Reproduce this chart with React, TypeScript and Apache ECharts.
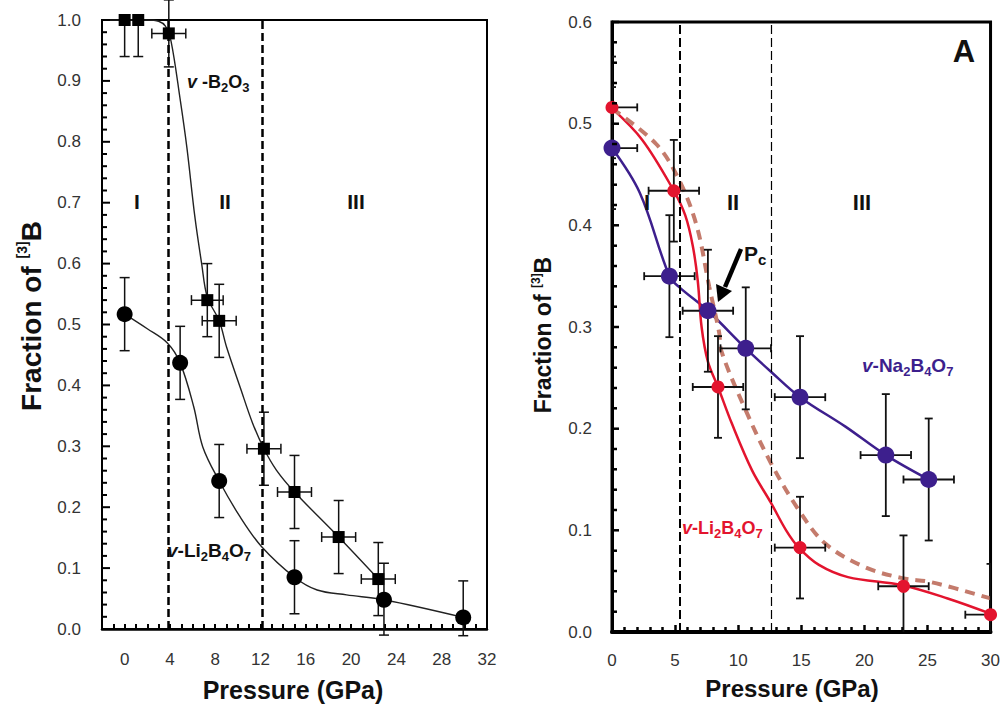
import React, { useEffect, useRef } from 'react';
import * as echarts from 'echarts';

// ---------- Left panel (v-B2O3 and v-Li2B4O7) ----------
const leftXLabels = [0, 4, 8, 12, 16, 20, 24, 28, 32];
const leftRegionBounds = [3.85, 12.15];

const b2o3X = [0, 1.2, 3.9, 7.3, 8.35, 12.3, 15.0, 18.9, 22.4];
const b2o3Y = [1.0, 1.0, 0.978, 0.54, 0.506, 0.296, 0.225, 0.151, 0.082];
const b2o3XErr = [0, 0, 1.5, 1.4, 1.5, 1.5, 1.5, 1.5, 1.5];
const b2o3YErrUp = [0, 0, 0.055, 0.06, 0.06, 0.06, 0.06, 0.06, 0.06];
const b2o3YErrDown = [0.06, 0.06, 0.055, 0.06, 0.06, 0.06, 0.06, 0.06, 0.06];

const b2o3CurveX = [-2, 0, 2, 3.0, 3.6, 4.1, 4.9, 5.5, 6.2, 6.8, 7.3, 8.35, 9.0, 10.2, 11.3, 12.3, 13.4, 15.0, 18.9, 22.4];
const b2o3CurveY = [1.0, 1.0, 1.0, 0.998, 0.99, 0.965, 0.87, 0.79, 0.677, 0.6, 0.545, 0.506, 0.463, 0.397, 0.338, 0.296, 0.261, 0.225, 0.151, 0.082];

const li2LeftX = [0, 4.9, 8.35, 15.0, 22.9, 29.9];
const li2LeftY = [0.517, 0.437, 0.243, 0.085, 0.048, 0.019];
const li2LeftXErr = [0, 0, 0, 0, 0, 0];
const li2LeftYErrUp = [0.06, 0.06, 0.06, 0.06, 0.06, 0.06];
const li2LeftYErrDown = [0.06, 0.06, 0.06, 0.06, 0.058, 0.03];

const li2LeftCurveX = [0, 2, 3.75, 4.9, 6.1, 6.9, 8.35, 10.2, 12.1, 15.0, 17, 19.6, 22.9, 29.9];
const li2LeftCurveY = [0.517, 0.493, 0.47, 0.437, 0.365, 0.299, 0.243, 0.184, 0.135, 0.085, 0.064, 0.056, 0.048, 0.019];

// ---------- Right panel (A) ----------
const rightRegionBounds = [5.35, 12.6];

const redX = [0, 4.9, 8.4, 14.9, 23.1, 30];
const redY = [0.516, 0.434, 0.241, 0.083, 0.045, 0.017];
const redXErr = [2, 2, 2, 2, 2, 2];
const redYErr = [0.05, 0.05, 0.05, 0.05, 0.05, 0.05];

const redCurveX = [0, 2.4, 4.9, 5.8, 6.4, 6.8, 7.1, 7.6, 8.4, 9.5, 11.1, 12.6, 13.8, 14.8, 16.4, 18.7, 23, 26.6, 30];
const redCurveY = [0.515, 0.484, 0.434, 0.41, 0.38, 0.345, 0.3, 0.266, 0.241, 0.205, 0.159, 0.127, 0.1, 0.083, 0.066, 0.054, 0.046, 0.033, 0.018];

const purpleX = [0, 4.55, 7.6, 10.6, 14.9, 21.7, 25.1];
const purpleY = [0.476, 0.35, 0.316, 0.279, 0.231, 0.174, 0.15];
const purpleXErr = [2, 2, 2, 2, 2, 2, 2];
const purpleYErr = [0.06, 0.06, 0.06, 0.06, 0.06, 0.06, 0.06];

const purpleCurveX = [0, 2.2, 4.55, 5.35, 7.6, 10.6, 12.6, 14.9, 18.5, 21.7, 25.1];
const purpleCurveY = [0.476, 0.432, 0.35, 0.339, 0.316, 0.279, 0.256, 0.231, 0.202, 0.174, 0.15];

const dashedCurveX = [0, 3.5, 5.3, 6.7, 7.7, 8.5, 8.65, 10.6, 12.6, 14.8, 16.9, 20, 23, 25.3, 30];
const dashedCurveY = [0.515, 0.48, 0.445, 0.4, 0.34, 0.294, 0.277, 0.218, 0.166, 0.12, 0.087, 0.064, 0.053, 0.049, 0.033];

const FONT = '"Liberation Sans", Arial, sans-serif';
const RED = '#e3142e';
const PURPLE = '#3d1f8d';
const BROWN = '#c47b6c';

const GRID_L = { left: 102, top: 20, width: 385, height: 609 };
const GRID_R = { left: 612, top: 22, width: 381, height: 610 };

const zip = (xs: number[], ys: number[]) => xs.map((x, i) => [x, ys[i]]);

function range(a: number, b: number, step: number) {
  const out: number[] = [];
  for (let v = a; v <= b + 1e-9; v += step) out.push(Math.round(v * 1000) / 1000);
  return out;
}

// inward y-axis ticks along the left edge of a grid (major every 0.1, minor every 0.02)
function yTickLines(g: { left: number; top: number; width: number; height: number }, yMax: number, major: number, minor: number, width: number) {
  return range(0, yMax, 0.02).map((v, i) => {
    const y = Math.round((g.top + g.height * (1 - v / yMax)) * 10) / 10;
    const len = i % 5 === 0 ? major : minor;
    return {
      type: 'line',
      z: 20,
      silent: true,
      shape: { x1: g.left, y1: y, x2: g.left + len, y2: y },
      style: { stroke: '#000', lineWidth: width },
    };
  });
}

function errorBars(
  axis: number,
  xs: number[],
  ys: number[],
  xErr: number[],
  yUp: number[],
  yDown: number[],
  capHalf: number,
  width: number,
  clip: boolean
) {
  return {
    type: 'custom',
    xAxisIndex: axis,
    yAxisIndex: axis,
    clip,
    silent: true,
    z: 3,
    encode: { x: 0, y: 1 },
    data: xs.map((x, i) => [x, ys[i], xErr[i], yUp[i], yDown[i]]),
    renderItem: (params: any, api: any) => {
      const x = api.value(0);
      const y = api.value(1);
      const xe = api.value(2);
      const yu = api.value(3);
      const yd = api.value(4);
      const c = api.coord([x, y]);
      const style = { stroke: '#111', lineWidth: width };
      const children: any[] = [];
      if (yu > 0 || yd > 0) {
        const t = api.coord([x, y + yu]);
        const b = api.coord([x, y - yd]);
        children.push({ type: 'line', shape: { x1: c[0], y1: t[1], x2: c[0], y2: b[1] }, style });
        if (yu > 0)
          children.push({ type: 'line', shape: { x1: c[0] - capHalf, y1: t[1], x2: c[0] + capHalf, y2: t[1] }, style });
        if (yd > 0)
          children.push({ type: 'line', shape: { x1: c[0] - capHalf, y1: b[1], x2: c[0] + capHalf, y2: b[1] }, style });
      }
      if (xe > 0) {
        const l = api.coord([x - xe, y]);
        const r = api.coord([x + xe, y]);
        children.push({ type: 'line', shape: { x1: l[0], y1: c[1], x2: r[0], y2: c[1] }, style });
        children.push({ type: 'line', shape: { x1: l[0], y1: c[1] - capHalf, x2: l[0], y2: c[1] + capHalf }, style });
        children.push({ type: 'line', shape: { x1: r[0], y1: c[1] - capHalf, x2: r[0], y2: c[1] + capHalf }, style });
      }
      return { type: 'group', children };
    },
  };
}

function formulaText(x: number, y: number, parts: [string, string][], size: number, color: string, subSize: number) {
  const text = parts.map(([k, t]) => `{${k}|${t}}`).join('');
  return {
    type: 'text',
    x,
    y,
    z: 10,
    style: {
      text,
      align: 'left',
      verticalAlign: 'middle',
      fill: color,
      rich: {
        i: { fontStyle: 'italic', fontWeight: 'bold', fontSize: size, lineHeight: size + 6, fontFamily: FONT, fill: color },
        m: { fontWeight: 'bold', fontSize: size, lineHeight: size + 6, fontFamily: FONT, fill: color },
        s: { fontWeight: 'bold', fontSize: subSize, lineHeight: subSize + 1, verticalAlign: 'bottom', fontFamily: FONT, fill: color },
      },
    },
  };
}

function plainText(x: number, y: number, text: string, size: number, color = '#111', align = 'center') {
  return {
    type: 'text',
    x,
    y,
    z: 10,
    style: { text, align, verticalAlign: 'middle', fontSize: size, fontWeight: 'bold', fontFamily: FONT, fill: color },
  };
}

function yTitle(x: number, y: number, size: number, supSize: number, bSize: number) {
  return {
    type: 'text',
    x,
    y,
    rotation: Math.PI / 2,
    z: 10,
    style: {
      text: '{m|Fraction of }{s|[3]}{b|B}',
      align: 'center',
      verticalAlign: 'middle',
      rich: {
        m: { fontWeight: 'bold', fontSize: size, lineHeight: bSize + 4, fontFamily: FONT, fill: '#111' },
        s: { fontWeight: 'bold', fontSize: supSize, lineHeight: supSize + 2, verticalAlign: 'top', fontFamily: FONT, fill: '#111' },
        b: { fontWeight: 'bold', fontSize: bSize, lineHeight: bSize + 4, fontFamily: FONT, fill: '#111' },
      },
    },
  };
}

const tickLabel = { fontSize: 17, color: '#333', fontFamily: FONT };

export default function App() {
  const ref = useRef<HTMLDivElement>(null);
  useEffect(() => {
    if (!ref.current) return;
    const chart = echarts.init(ref.current, null, { renderer: 'svg' });

    const graphics: any[] = [
      yTitle(31, 316, 28, 14, 28),
      plainText(293, 690, 'Pressure (GPa)', 25),
      plainText(137, 201, 'I', 21),
      plainText(225, 201, 'II', 21),
      plainText(356, 201, 'III', 21),
      formulaText(187, 82, [['i', 'v'], ['m', ' -B'], ['s', '2'], ['m', 'O'], ['s', '3']], 18, '#111', 13),
      formulaText(167, 550, [['i', 'v'], ['m', '-Li'], ['s', '2'], ['m', 'B'], ['s', '4'], ['m', 'O'], ['s', '7']], 19, '#111', 13),
      yTitle(543, 335, 23, 12, 23),
      plainText(792, 688, 'Pressure (GPa)', 24),
      plainText(964, 51, 'A', 31),
      plainText(647, 202, 'I', 22),
      plainText(733, 202, 'II', 22),
      plainText(862, 202, 'III', 22),
      formulaText(862, 365, [['i', 'v'], ['m', '-Na'], ['s', '2'], ['m', 'B'], ['s', '4'], ['m', 'O'], ['s', '7']], 19, PURPLE, 13),
      formulaText(682, 528, [['i', 'v'], ['m', '-Li'], ['s', '2'], ['m', 'B'], ['s', '4'], ['m', 'O'], ['s', '7']], 18, RED, 13),
      formulaText(744, 253, [['m', 'P'], ['s', 'c']], 21, '#111', 15),
      {
        type: 'line',
        z: 10,
        shape: { x1: 741, y1: 249, x2: 725, y2: 287 },
        style: { stroke: '#000', lineWidth: 4.5 },
      },
      {
        type: 'polygon',
        z: 10,
        shape: { points: [[718, 302], [732, 291], [716, 284]] },
        style: { fill: '#000' },
      },
      ...yTickLines(GRID_L, 1, 8, 5, 2),
      ...yTickLines(GRID_R, 0.6, 7, 5, 2.5),
    ];

    const option: any = {
      animation: false,
      backgroundColor: '#fff',
      grid: [
        { ...GRID_L, show: true, borderColor: '#000', borderWidth: 2, backgroundColor: 'transparent' },
        { ...GRID_R, show: true, borderColor: '#000', borderWidth: 3, backgroundColor: 'transparent' },
      ],
      xAxis: [
        {
          gridIndex: 0,
          type: 'value',
          min: -2,
          max: 32,
          axisLine: { show: true, lineStyle: { color: '#000', width: 2.5 } },
          axisTick: { show: true, inside: true, length: 5, customValues: range(-1, 31, 1), lineStyle: { color: '#000', width: 2 } },
          axisLabel: { ...tickLabel, margin: 22, customValues: leftXLabels, formatter: (v: number) => String(v) },
          splitLine: { show: false },
        },
        {
          gridIndex: 1,
          type: 'value',
          min: 0,
          max: 30,
          interval: 5,
          axisLine: { show: true, lineStyle: { color: '#000', width: 4 } },
          axisTick: { show: true, inside: true, length: 7, lineStyle: { color: '#000', width: 2.5 } },
          minorTick: { show: true, splitNumber: 5, length: 5, lineStyle: { color: '#000', width: 2.5 } },
          axisLabel: { ...tickLabel, margin: 20, showMaxLabel: true },
          splitLine: { show: false },
        },
      ],
      yAxis: [
        {
          gridIndex: 0,
          type: 'value',
          min: 0,
          max: 1,
          interval: 0.1,
          axisLine: { show: true, onZero: false, lineStyle: { color: '#000', width: 2 } },
          axisTick: { show: false },
          minorTick: { show: false },
          axisLabel: { ...tickLabel, margin: 21, formatter: (v: number) => v.toFixed(1) },
          splitLine: { show: false },
        },
        {
          gridIndex: 1,
          type: 'value',
          min: 0,
          max: 0.6,
          interval: 0.1,
          axisLine: { show: true, onZero: false, lineStyle: { color: '#000', width: 3 } },
          axisTick: { show: false },
          minorTick: { show: false },
          axisLabel: { ...tickLabel, margin: 20, formatter: (v: number) => v.toFixed(1) },
          splitLine: { show: false },
        },
      ],
      graphic: graphics,
      series: [
        {
          type: 'line',
          xAxisIndex: 0,
          yAxisIndex: 0,
          data: zip(b2o3CurveX, b2o3CurveY),
          smooth: 0.35,
          showSymbol: false,
          symbol: 'none',
          lineStyle: { color: '#222', width: 1.4 },
          z: 2,
          markLine: {
            silent: true,
            symbol: ['none', 'none'],
            label: { show: false },
            lineStyle: { color: '#000', width: 2.5, type: [8, 4] },
            data: leftRegionBounds.map((v) => ({ xAxis: v })),
          },
        },
        {
          type: 'line',
          xAxisIndex: 0,
          yAxisIndex: 0,
          data: zip(li2LeftCurveX, li2LeftCurveY),
          smooth: 0.35,
          showSymbol: false,
          symbol: 'none',
          lineStyle: { color: '#222', width: 1.4 },
          z: 2,
        },
        errorBars(0, b2o3X, b2o3Y, b2o3XErr, b2o3YErrUp, b2o3YErrDown, 5, 1.5, false),
        errorBars(0, li2LeftX, li2LeftY, li2LeftXErr, li2LeftYErrUp, li2LeftYErrDown, 5, 1.5, false),
        {
          type: 'scatter',
          xAxisIndex: 0,
          yAxisIndex: 0,
          data: zip(b2o3X, b2o3Y),
          symbol: 'rect',
          symbolSize: 12,
          itemStyle: { color: '#000', opacity: 1 },
          z: 5,
        },
        {
          type: 'scatter',
          xAxisIndex: 0,
          yAxisIndex: 0,
          data: zip(li2LeftX, li2LeftY),
          symbol: 'circle',
          symbolSize: 16,
          itemStyle: { color: '#000', opacity: 1 },
          z: 5,
        },
        {
          type: 'line',
          xAxisIndex: 1,
          yAxisIndex: 1,
          data: zip(purpleCurveX, purpleCurveY),
          smooth: 0.35,
          showSymbol: false,
          symbol: 'none',
          lineStyle: { color: PURPLE, width: 2.5 },
          z: 2,
          markLine: {
            silent: true,
            symbol: ['none', 'none'],
            label: { show: false },
            data: [
              { xAxis: rightRegionBounds[0], lineStyle: { color: '#000', width: 2, type: [9, 4] } },
              { xAxis: rightRegionBounds[1], lineStyle: { color: '#000', width: 1.2, type: [9, 4] } },
            ],
          },
        },
        {
          type: 'line',
          xAxisIndex: 1,
          yAxisIndex: 1,
          data: zip(redCurveX, redCurveY),
          smooth: 0.35,
          showSymbol: false,
          symbol: 'none',
          lineStyle: { color: RED, width: 2.5 },
          z: 2,
        },
        {
          type: 'line',
          xAxisIndex: 1,
          yAxisIndex: 1,
          data: zip(dashedCurveX, dashedCurveY),
          smooth: 0.35,
          showSymbol: false,
          symbol: 'none',
          lineStyle: { color: BROWN, width: 4, type: [10, 7] },
          z: 2,
        },
        errorBars(1, redX, redY, redXErr, redYErr, redYErr, 4, 1.8, true),
        errorBars(1, purpleX, purpleY, purpleXErr, purpleYErr, purpleYErr, 4, 1.8, true),
        {
          type: 'scatter',
          xAxisIndex: 1,
          yAxisIndex: 1,
          data: zip(redX, redY),
          symbol: 'circle',
          symbolSize: 13,
          itemStyle: { color: RED, opacity: 1 },
          z: 5,
        },
        {
          type: 'scatter',
          xAxisIndex: 1,
          yAxisIndex: 1,
          data: zip(purpleX, purpleY),
          symbol: 'circle',
          symbolSize: 17,
          itemStyle: { color: PURPLE, opacity: 1 },
          z: 5,
        },
      ],
    };

    chart.setOption(option);
    return () => chart.dispose();
  }, []);

  return <div ref={ref} style={{ position: 'absolute', left: 0, top: 0, width: 1003, height: 704 }} />;
}
